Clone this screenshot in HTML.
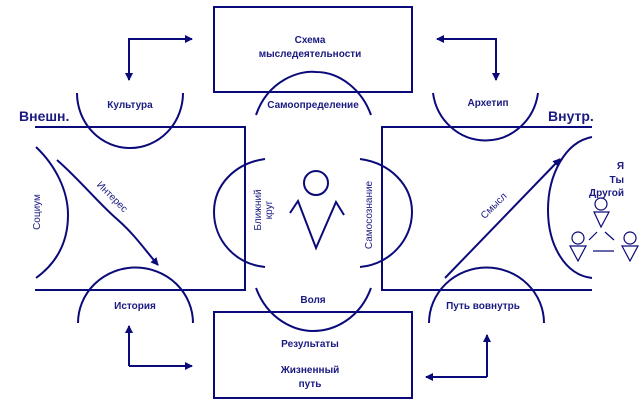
<!DOCTYPE html>
<html><head><meta charset="utf-8"><style>
html,body{margin:0;padding:0;background:#fff;}
svg{display:block;}
text{font-family:"Liberation Sans",sans-serif;fill:#1a1a80;}
</style></head><body>
<svg width="640" height="400" viewBox="0 0 640 400" xmlns="http://www.w3.org/2000/svg">
<defs>
<marker id="ah" markerWidth="8" markerHeight="8" refX="7" refY="4" orient="auto" markerUnits="userSpaceOnUse">
<path d="M0,0 L8,4 L0,8 z" fill="#0a0a7a"/></marker>
</defs>
<g stroke="#0a0a7a" fill="none" stroke-width="2">
<rect x="214" y="7" width="198" height="85"/>
<rect x="214" y="312" width="198" height="86"/>
<polyline points="35,127 245,127 245,290 35,290"/>
<polyline points="592,127 382,127 382,290 592,290"/>
<path d="M77,93 A53,55 0 0 0 183,93"/>
<path d="M433,93 A53,55 0 0 0 538,93"/>
<path d="M78,323 A57,55 0 0 1 193,323"/>
<path d="M429,323 A57,55 0 0 1 544,323"/>
<path d="M256,115 C268,80 300,70 316,72 C340,72 362,90 371,115"/>
<path d="M256,288 C268,320 295,331 313,331 C335,331 360,318 371,288"/>
<path d="M265,159 C235,163 214,185 214,212 C214,240 235,264 265,267"/>
<path d="M360,159 C390,163 412,185 412,212 C412,240 390,264 360,267"/>
<path d="M36,147 C55,165 68,190 68,215 C68,240 58,262 36,278"/>
<path d="M592,137 C565,142 548,175 548,210 C548,245 565,275 592,278"/>
<path d="M57,160 C80,180 100,205 118,220 C135,235 145,250 158,265" marker-end="url(#ah)"/>
<line x1="445" y1="278" x2="560" y2="159" marker-end="url(#ah)"/>
<polyline points="192,39 129,39 129,80" marker-end="url(#ah)"/>
<polyline points="437,39 496,39 496,80" marker-end="url(#ah)"/>
<polyline points="129,366 129,326" marker-end="url(#ah)"/>
<polyline points="129,366 192,366" marker-end="url(#ah)"/>
<polyline points="487,377 487,335" marker-end="url(#ah)"/>
<polyline points="487,377 426,377" marker-end="url(#ah)"/>
<line x1="185" y1="39" x2="192" y2="39" marker-end="url(#ah)"/>
<line x1="444" y1="39" x2="437" y2="39" marker-end="url(#ah)"/>
<circle cx="316" cy="183" r="12"/>
<polyline points="290,213 298,201 316,248 336,202 344,215"/>
</g>
<g stroke="#0a0a7a" fill="none" stroke-width="1.2">
<circle cx="601" cy="204" r="6"/><path d="M594,212 L609,212 L601,227 z"/>
<circle cx="578" cy="238" r="6"/><path d="M570,246 L586,246 L578,261 z"/>
<circle cx="630" cy="238" r="6"/><path d="M622,246 L638,246 L630,261 z"/>
<line x1="589" y1="240" x2="597" y2="232"/><line x1="605" y1="232" x2="614" y2="240"/>
<line x1="593" y1="251" x2="614" y2="251"/>
</g>
<g font-size="10" font-weight="bold" text-anchor="middle">
<text x="310" y="43">Схема</text>
<text x="310" y="57">мыследеятельности</text>
<text x="310" y="347">Результаты</text>
<text x="310" y="373">Жизненный</text>
<text x="310" y="387">путь</text>
<text x="130" y="108">Культура</text>
<text x="488" y="106">Архетип</text>
<text x="135" y="309">История</text>
<text x="483" y="309">Путь вовнутрь</text>
<text x="313" y="108">Самоопределение</text>
<text x="313" y="303">Воля</text>
</g>
<g font-size="14" font-weight="bold">
<text x="19" y="121">Внешн.</text>
<text x="548" y="121">Внутр.</text>
</g>
<g font-size="10" font-weight="bold" text-anchor="end">
<text x="624" y="169">Я</text>
<text x="624" y="183">Ты</text>
<text x="624" y="196">Другой</text>
</g>
<g font-size="10" text-anchor="middle">
<text transform="translate(40,212) rotate(-90)">Социум</text>
<text transform="translate(110,199) rotate(45)">Интерес</text>
<text transform="translate(261,210) rotate(-90)">Ближний</text>
<text transform="translate(272,210) rotate(-90)">круг</text>
<text transform="translate(372,215) rotate(-90)">Самосознание</text>
<text transform="translate(496,208) rotate(-45)">Смысл</text>
</g>
</svg>
</body></html>
